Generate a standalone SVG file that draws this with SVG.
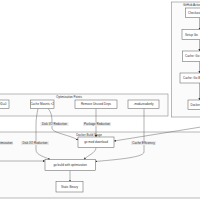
<svg xmlns="http://www.w3.org/2000/svg" width="200" height="200" viewBox="0 0 200 200">
<defs>
<marker id="ah" viewBox="0 0 10 10" refX="9" refY="5" markerWidth="2.2" markerHeight="2.2" orient="auto" markerUnits="userSpaceOnUse">
<path d="M0,0 L10,5 L0,10 z" fill="#333"/>
</marker>
<style>
.cl{fill:#fbfbfb;stroke:#8a8a8a;stroke-width:0.6}
.nd{fill:#fff;stroke:#666;stroke-width:0.55}
.t{font-family:"Liberation Sans",Arial,sans-serif;font-size:3px;fill:#333;text-anchor:middle;dominant-baseline:central}
.ts{font-family:"Liberation Sans",Arial,sans-serif;font-size:3px;fill:#333;dominant-baseline:central}
.e{fill:none;stroke:#555;stroke-width:0.45;marker-end:url(#ah)}
.lb{fill:#e8e8e8}
</style>
</defs>
<rect width="200" height="200" fill="#fff"/>
<g id="cluster-github">
<rect class="cl" x="171.5" y="2" width="40" height="115"/>
<text class="ts" x="183" y="4.5">GitHub Actions</text>
</g>
<g id="cluster-opt">
<rect class="cl" x="-30" y="94" width="198" height="22"/>
<text class="t" x="69" y="97">Optimization Points</text>
</g>
<g id="cluster-docker">
<rect class="cl" x="-30" y="132" width="240" height="66"/>
<text class="t" x="89" y="134.5">Docker Build Stage</text>
</g>
<g id="edges">
<path class="e" d="M38,108.5 C37,114 36,118 36,125 L36,150 C36,155 45,157 50,159.5"/>
<path class="e" d="M48,108.5 C52,113 52,118 52,125 L52,128 C52,133 70,135 78,140"/>
<path class="e" d="M96,108.5 L96,137"/>
<path class="e" d="M144,108.5 L144,152 C144,158 110,160 95.5,161.5"/>
<path class="e" d="M201,127 L114,141"/>
<path class="e" d="M96,147.5 C96,153 88,155 84,159.5"/>
<path class="e" d="M-5,161 L45,161"/>
<path class="e" d="M70,170.5 L70,181.5"/>
<path class="e" d="M199.5,17.5 L199.5,29.5"/>
<path class="e" d="M199.5,39.5 L199.5,51"/>
<path class="e" d="M199.5,61.5 L199.5,73"/>
<path class="e" d="M199.5,83 L199.5,100"/>
<rect class="lb" x="21" y="141.2" width="28" height="3.8"/>
<text class="t" x="35" y="143">Disk I/O Reduction</text>
<rect class="lb" x="40.5" y="122.2" width="28" height="3.8"/>
<text class="t" x="54.5" y="124">Disk I/O Reduction</text>
<rect class="lb" x="83" y="122.2" width="28" height="3.8"/>
<text class="t" x="97" y="124">Package Reduction</text>
<rect class="lb" x="131" y="141.2" width="25" height="3.8"/>
<text class="t" x="143.5" y="143">Cache Efficiency</text>
<rect class="lb" x="-12" y="141.2" width="25" height="3.8"/>
<text class="ts" x="12.5" y="143" style="text-anchor:end">Size Optimization</text>
</g>
<g id="n-cgo"><rect class="nd" x="-22" y="100" width="31" height="8.5"/><text class="t" x="-6.5" y="104.3">CGO_ENABLED=0</text></g>
<g id="n-cache-mounts"><rect class="nd" x="30.5" y="100" width="23.5" height="8.5"/><text class="t" x="42.2" y="104.3">Cache Mounts ×2</text></g>
<g id="n-remove-deps"><rect class="nd" x="75" y="100" width="42" height="8.5"/><text class="t" x="96" y="104.3">Remove Unused Deps</text></g>
<g id="n-mod-readonly"><rect class="nd" x="128" y="100" width="31" height="8.5"/><text class="t" x="143.5" y="104.3">-mod=readonly</text></g>
<g id="n-go-mod"><rect class="nd" x="78" y="137" width="36" height="10.5"/><text class="t" x="96" y="142.3">go mod download</text></g>
<g id="n-go-build"><rect class="nd" x="45" y="159.5" width="50.5" height="11"/><text class="t" x="70.2" y="165">go build with optimization</text></g>
<g id="n-static"><rect class="nd" x="56" y="181.5" width="27" height="10.5"/><text class="t" x="69.5" y="186.8">Static Binary</text></g>
<g id="n-checkout"><rect class="nd" x="185.5" y="8" width="28" height="9.5"/><text class="ts" x="188" y="12.8">Checkout</text></g>
<g id="n-setup-go"><rect class="nd" x="182" y="29.5" width="34" height="10"/><text class="ts" x="185" y="34.5">Setup Go</text></g>
<g id="n-cache-mod"><rect class="nd" x="182.5" y="51" width="34" height="10.5"/><text class="ts" x="185" y="56.3">Cache: Go Modules</text></g>
<g id="n-cache-build"><rect class="nd" x="180" y="73" width="38" height="10"/><text class="ts" x="183" y="78">Cache: Go Build</text></g>
<g id="n-docker"><rect class="nd" x="188" y="100" width="30" height="9.5"/><text class="ts" x="190.5" y="104.8">Docker Build</text></g>
</svg>
